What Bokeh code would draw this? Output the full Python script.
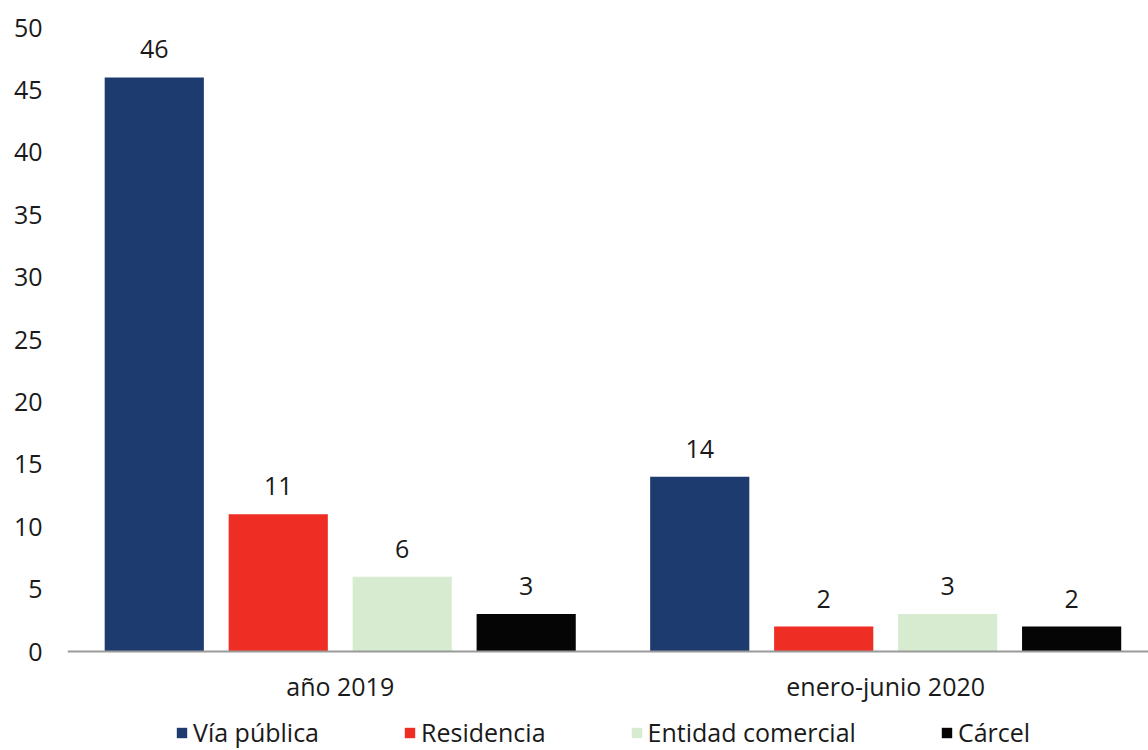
from bokeh.plotting import figure
from bokeh.models import (Range1d, FixedTicker, Legend, LegendItem, ColumnDataSource,
                          LabelSet, Span)
from bokeh.core.properties import value
from bokeh.embed import file_html
from bokeh.resources import INLINE

categories = ["año 2019", "enero-junio 2020"]
series = ["Vía pública", "Residencia", "Entidad comercial", "Cárcel"]
values = {
    "Vía pública": [46, 14],
    "Residencia": [11, 2],
    "Entidad comercial": [6, 3],
    "Cárcel": [3, 2],
}
colors = ["#1D3B6F", "#EE2D25", "#D7EBD1", "#050505"]
y_ticks = [0, 5, 10, 15, 20, 25, 30, 35, 40, 45, 50]

FONT = "Open Sans"
FS = "25px"
TEXT = "#1a1a1a"

n_series = len(series)
group_pitch = n_series + 0.4
bar_width = 0.8

# frame extends below the zero line to host category labels and legend
p = figure(frame_width=1081, frame_height=723, output_backend="svg", toolbar_location=None,
           x_range=Range1d(-0.2, 8.52), y_range=Range1d(-7.93, 50),
           x_axis_location=None,
           min_border_left=67, min_border_right=0, min_border_top=27, min_border_bottom=0)
p.outline_line_color = None
p.xgrid.grid_line_color = None
p.ygrid.grid_line_color = None
p.background_fill_color = "white"
p.border_fill_color = "white"

items = []
for j, s in enumerate(series):
    xs = [i * group_pitch + j + 0.5 for i in range(len(categories))]
    src = ColumnDataSource(dict(x=xs, top=values[s], lab=[str(v) for v in values[s]]))
    r = p.vbar(x="x", top="top", width=bar_width, bottom=0, source=src,
               fill_color=colors[j], line_color=None)
    items.append(LegendItem(label=s, renderers=[r]))
    labels = LabelSet(x="x", y="top", text="lab", source=src, text_align="center",
                      text_baseline="alphabetic", y_offset=19, text_font=value(FONT),
                      text_font_size=FS, text_color=TEXT)
    p.add_layout(labels)

# zero baseline (category axis line)
p.add_layout(Span(location=0, dimension="width", line_color="#9a9a9a", line_width=2))

# category labels under the baseline
centers = [i * group_pitch + n_series / 2 for i in range(len(categories))]
cat_src = ColumnDataSource(dict(x=centers, y=[0] * len(categories), t=categories))
p.add_layout(LabelSet(x="x", y="y", text="t", source=cat_src, text_align="center",
                      text_baseline="middle", y_offset=-34, text_font=value(FONT),
                      text_font_size=FS, text_color=TEXT))

# y axis
p.yaxis.ticker = FixedTicker(ticks=y_ticks)
p.yaxis.axis_line_color = None
p.yaxis.major_tick_line_color = None
p.yaxis.minor_tick_line_color = None
p.yaxis.major_tick_out = 0
p.yaxis.major_label_standoff = 25
p.yaxis.major_label_text_font = FONT
p.yaxis.major_label_text_font_size = FS
p.yaxis.major_label_text_color = TEXT

legend = Legend(items=items, orientation="horizontal", location=(108, 1),
                label_text_font=FONT, label_text_font_size=FS, label_text_color=TEXT,
                glyph_width=13, glyph_height=13, label_standoff=5, spacing=84,
                label_height=20, border_line_color=None, background_fill_alpha=0,
                margin=0, padding=0)
p.add_layout(legend)

open("out.html", "w").write(file_html(p, INLINE))
